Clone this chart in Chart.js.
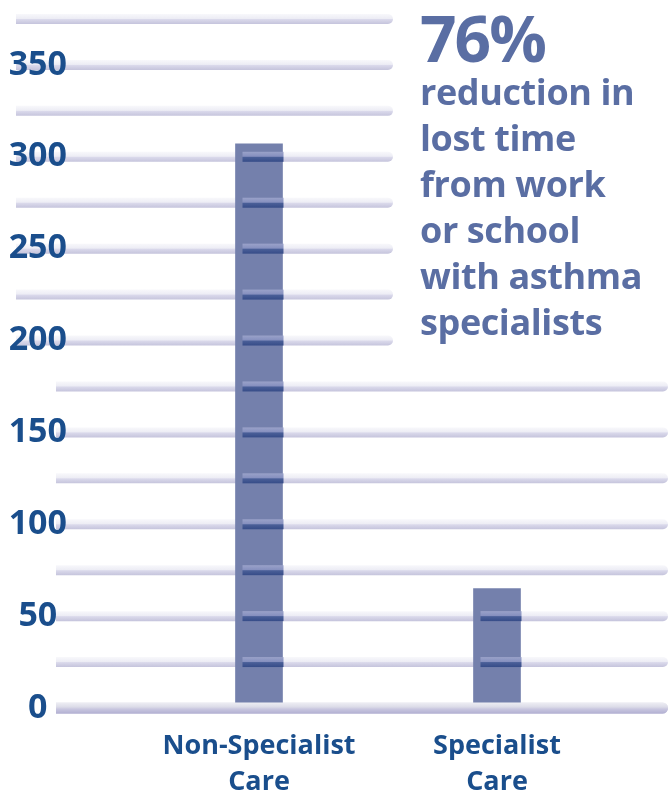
<!DOCTYPE html>
<html>
<head>
<meta charset="utf-8">
<script src="https://cdn.jsdelivr.net/npm/chart.js@4"></script>
<style>
  html, body { margin: 0; padding: 0; background: #fff; }
  #wrap { position: relative; width: 668px; height: 797px; }
  #note {
    position: absolute; left: 420px; top: 6px;
    font-family: "Open Sans", sans-serif; font-weight: 700; color: #5a6ea3;
  }
  #note .big { font-size: 64px; line-height: 64px; letter-spacing: -2px; margin-bottom: -2px; }
  #note .small { font-size: 36px; line-height: 46px; letter-spacing: -0.4px; padding-top: 1px; }
</style>
</head>
<body>
<div id="wrap">
  <canvas id="lostTime"></canvas>
  <div id="note">
    <div class="big">76%</div>
    <div class="small">reduction in<br>lost time<br>from work<br>or school<br>with asthma<br>specialists</div>
  </div>
</div>
<script>
const categories = [['Non-Specialist', 'Care'], ['Specialist', 'Care']];
const lostTime = [307, 65];
const yMax = 375;
const yStep = 25;
const labelEvery = 50;

const barColor = '#7480ac';
const labelColor = '#1a4e8c';

function drawTube(ctx, value, py) {
  const upper = value >= 200;
  const x0 = upper ? 16 : 56;
  const x1 = upper ? 393 : 668;
  const h = value === 0 ? 11 : 10;
  const g = ctx.createLinearGradient(0, py - h / 2, 0, py + h / 2);
  if (value === 0) {
    g.addColorStop(0, '#eeeef4');
    g.addColorStop(0.4, '#dcdce8');
    g.addColorStop(0.6, '#c8c6df');
    g.addColorStop(1, '#b2b0d2');
  } else {
    g.addColorStop(0, '#f8f8fb');
    g.addColorStop(0.45, '#ededf5');
    g.addColorStop(0.55, '#dad9eb');
    g.addColorStop(1, '#c5c4dc');
  }
  ctx.fillStyle = g;
  ctx.beginPath();
  ctx.roundRect(x0, py - h / 2, x1 - x0, h, [0, h / 2, h / 2, 0]);
  ctx.fill();
}

// rounded "tube" gridlines, drawn under the tick labels
const tubeGrid = {
  id: 'tubeGrid',
  beforeDraw(chart) {
    const ctx = chart.ctx;
    const y = chart.scales.y;
    ctx.save();
    y.ticks.forEach(t => drawTube(ctx, t.value, y.getPixelForValue(t.value)));
    ctx.restore();
  },
  afterDatasetsDraw(chart) {
    const ctx = chart.ctx;
    const y = chart.scales.y;
    ctx.save();
    chart.getDatasetMeta(0).data.forEach(bar => {
      const left = bar.x - bar.width / 2 + 7;
      const right = bar.x + bar.width / 2 + 1;
      y.ticks.forEach(t => {
        if (t.value === 0) return;
        const py = y.getPixelForValue(t.value);
        if (py < bar.y + 4 || py > bar.base) return;
        const g = ctx.createLinearGradient(0, py - 5, 0, py + 5);
        g.addColorStop(0, '#9aa2c9');
        g.addColorStop(0.45, '#8690bf');
        g.addColorStop(0.55, '#4a5f98');
        g.addColorStop(1, '#364c88');
        ctx.fillStyle = g;
        ctx.fillRect(left, py - 5, right - left, 10);
      });
    });
    // baseline sits in front of the bars
    drawTube(ctx, 0, y.getPixelForValue(0));
    ctx.restore();
  }
};

new Chart(document.getElementById('lostTime'), {
  type: 'bar',
  data: {
    labels: categories,
    datasets: [{
      label: 'Lost time',
      data: lostTime,
      backgroundColor: barColor,
      borderWidth: 0,
      barThickness: 47
    }]
  },
  options: {
    responsive: true,
    maintainAspectRatio: false,
    animation: false,
    events: [],
    layout: { padding: { top: 19, right: 52, left: 0, bottom: 0 } },
    scales: {
      x: {
        grid: { display: false },
        border: { display: false },
        afterFit: s => { s.height = 89; s.paddingLeft = 0; s.paddingRight = 0; },
        ticks: {
          color: labelColor,
          padding: 12,
          maxRotation: 0,
          font: { family: 'Open Sans', weight: 'bold', size: 27, lineHeight: 1.35 }
        }
      },
      y: {
        min: 0,
        max: yMax,
        grid: { display: false, drawTicks: false },
        border: { display: false },
        afterFit: s => { s.width = 140; s.paddingTop = 0; s.paddingBottom = 0; },
        ticks: {
          stepSize: yStep,
          autoSkip: false,
          crossAlign: 'center',
          padding: 73,
          color: labelColor,
          font: { family: 'Open Sans', weight: 'bold', size: 34 },
          callback: v => (v % labelEvery === 0 ? v : '')
        }
      }
    },
    plugins: {
      legend: { display: false },
      tooltip: { enabled: false }
    }
  },
  plugins: [tubeGrid]
});
</script>
</body>
</html>
